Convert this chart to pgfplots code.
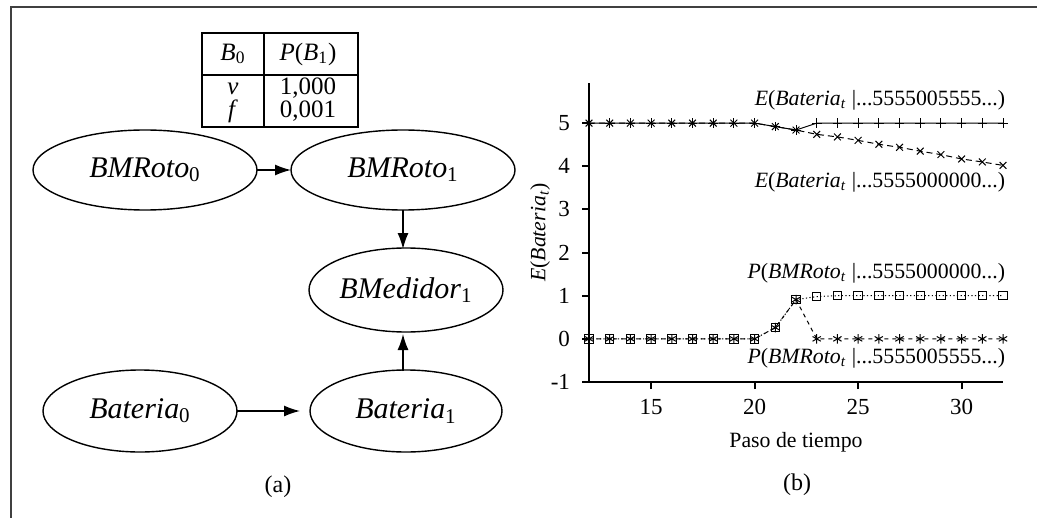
\documentclass[border=0pt]{standalone}
\usepackage{fontspec}
\setmainfont{Liberation Serif}
\usepackage{pgfplots}
\pgfplotsset{compat=1.18}
\usepackage{pgfplotstable}
\usetikzlibrary{arrows.meta}

% paso, E(Bateria|...5555005555...), E(Bateria|...5555000000...),
% P(BMRoto|...5555000000...), P(BMRoto|...5555005555...)
\pgfplotstableread{
t  ea    eb    pa    pb
12 5     5     0     0
13 5     5     0     0
14 5     5     0     0
15 5     5     0     0
16 5     5     0     0
17 5     5     0     0
18 5     5     0     0
19 5     5     0     0
20 5     5     0     0
21 4.92  4.92  0.26  0.26
22 4.84  4.84  0.91  0.91
23 5     4.74  0.98  0
24 5     4.68  1     0
25 5     4.60  1     0
26 5     4.51  1     0
27 5     4.44  1     0
28 5     4.35  1     0
29 5     4.27  1     0
30 5     4.17  1     0
31 5     4.10  1     0
32 5     4.02  1     0
}\datos

\newcommand{\nodefont}{\fontsize{15}{17}\selectfont}
\newcommand{\tabfont}{\fontsize{12.5}{14}\selectfont}

\begin{document}
\begin{tikzpicture}[font=\fontsize{10.9}{13}\selectfont]
\useasboundingbox (0,0) rectangle (518.5pt,-259pt);

\begin{scope}[x=0.5pt,y=-0.5pt]
% marco
\draw[line width=1pt, black!75] (11,518) -- (11,7) -- (1037,7);

% tabla
\draw[line width=0.6pt] (202,33) rectangle (358,127);
\draw[line width=0.6pt] (264,33) -- (264,127);
\draw[line width=0.6pt] (202,75) -- (358,75);
\begin{scope}[every node/.style={font=\tabfont, inner sep=0pt}]
\node at (233,54) {\textit{B}\textsubscript{0}};
\node at (308,54) {\textit{P}(\textit{B}\textsubscript{1})};
\node at (233,89) {\textit{v}};
\node at (308,88) {1,000};
\node at (233,111) {\textit{f}};
\node at (308,111) {0,001};
\end{scope}

% nodos
\draw[line width=0.7pt] (145,170) ellipse [x radius=56pt, y radius=20pt];
\node[font=\nodefont] at (145,170) {\textit{BMRoto}\textsubscript{0}};
\draw[line width=0.7pt] (403,170) ellipse [x radius=56pt, y radius=20pt];
\node[font=\nodefont] at (403,170) {\textit{BMRoto}\textsubscript{1}};
\draw[line width=0.7pt] (406,290) ellipse [x radius=48.5pt, y radius=21pt];
\node[font=\nodefont] at (406,290) {\textit{BMedidor}\textsubscript{1}};
\draw[line width=0.7pt] (140,411) ellipse [x radius=48.5pt, y radius=20.5pt];
\node[font=\nodefont] at (140,411) {\textit{Bateria}\textsubscript{0}};
\draw[line width=0.7pt] (406,411) ellipse [x radius=48pt, y radius=20.5pt];
\node[font=\nodefont] at (406,411) {\textit{Bateria}\textsubscript{1}};

% arcos
\draw[line width=0.7pt, -{Latex[length=8pt,width=5.5pt]}] (257,170) -- (291,170);
\draw[line width=0.7pt, -{Latex[length=8pt,width=5.5pt]}] (403,210) -- (403,249);
\draw[line width=0.7pt, -{Latex[length=8pt,width=5.5pt]}] (403,371) -- (403,334);
\draw[line width=0.7pt, -{Latex[length=8pt,width=5.5pt]}] (237,411) -- (300,411);

\node[font=\fontsize{12}{14}\selectfont] at (278,487) {(a)};
\node[font=\fontsize{12}{14}\selectfont] at (797,485) {(b)};
\end{scope}

\begin{axis}[
  at={(294.5pt,-191pt)}, anchor=south west,
  scale only axis, width=207pt, height=149.5pt,
  xmin=12, xmax=32, ymin=-1, ymax=5.93,
  axis lines=left,
  axis line style={-, line width=1pt},
  tick align=outside, major tick length=3.5pt,
  tick style={line width=1pt, black},
  xtick={15,20,25,30}, ytick={-1,0,1,2,3,4,5},
  minor tick num=0,
  /pgf/number format/assume math mode=true,
  tick label style={font=\fontsize{11.5}{13}\selectfont},
  yticklabel style={xshift=-2.5pt},
  xticklabel style={yshift=-1.5pt},
  xlabel={Paso de tiempo},
  ylabel={\textit{E}(\textit{Bateria}\textsubscript{\textit{t}})},
  xlabel style={at={(axis description cs:0.5,-0.2)}, anchor=center},
  ylabel style={at={(axis description cs:-0.118,0.5)}, anchor=center},
  clip=false,
]
\addplot[black, line width=0.5pt, mark=+, mark size=2.4pt]
  table[x=t, y=ea] {\datos};
\addplot[black, line width=0.5pt, dash pattern=on 3pt off 2pt,
  mark=x, mark size=2.4pt, mark options={solid}]
  table[x=t, y=eb] {\datos};
\addplot[black, line width=0.5pt, dash pattern=on 0.6pt off 1.2pt,
  mark=square, mark size=2.1pt, mark options={solid}]
  table[x=t, y=pa] {\datos};
\addplot[black, line width=0.5pt, dash pattern=on 2pt off 2pt,
  mark=asterisk, mark size=2.4pt, mark options={solid}]
  table[x=t, y=pb] {\datos};

\node[anchor=east, inner sep=0pt] at (axis cs:32.12,5.53)
  {\textit{E}(\textit{Bateria}\textsubscript{\textit{t}} |...5555005555...)};
\node[anchor=east, inner sep=0pt] at (axis cs:32.12,3.63)
  {\textit{E}(\textit{Bateria}\textsubscript{\textit{t}} |...5555000000...)};
\node[anchor=east, inner sep=0pt] at (axis cs:32.12,1.53)
  {\textit{P}(\textit{BMRoto}\textsubscript{\textit{t}} |...5555000000...)};
\node[anchor=east, inner sep=0pt] at (axis cs:32.12,-0.44)
  {\textit{P}(\textit{BMRoto}\textsubscript{\textit{t}} |...5555005555...)};
\end{axis}
\end{tikzpicture}
\end{document}
